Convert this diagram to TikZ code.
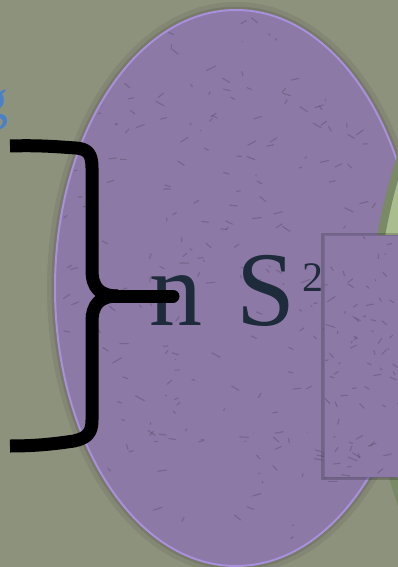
\documentclass[tikz,border=0pt]{standalone}
\usepackage{fontspec}
\setmainfont{Liberation Serif}
\usetikzlibrary{calc}

\definecolor{bgolive}{RGB}{141,146,125}
\definecolor{lilac}{RGB}{140,121,166}
\definecolor{lilacrim}{RGB}{168,144,220}
\definecolor{sagelight}{RGB}{170,189,143}
\definecolor{sagedark}{RGB}{122,138,102}
\definecolor{slateink}{RGB}{29,43,58}
\definecolor{skyblue}{RGB}{74,128,200}

\tikzset{
  blob/.style={fill=lilac,draw=lilacrim,line width=2pt},
  scratch/.style={draw=lilac!55!black,opacity=.35,line width=1.1pt,line cap=round},
  bracket/.style={draw=black,line width=13pt,line join=round}
}

\begin{document}
\begin{tikzpicture}[x=1pt,y=-1pt]
        \useasboundingbox (0,0) rectangle (398,567);
        \fill[bgolive] (0,0) rectangle (398,567);
        % \draw (0,0) rectangle (398,567);

        % soft halo round the ellipse
        \draw[black,opacity=.07,line width=12pt] (236,288) ellipse [x radius=183pt,y radius=280pt];
        \draw[black,opacity=.09,line width=5pt] (236,288) ellipse [x radius=182pt,y radius=279pt];
        \path[blob] (236,288) ellipse [x radius=181pt,y radius=278pt];
        \begin{scope}
            \clip (236,288) ellipse [x radius=179pt,y radius=276pt];
            \pgfmathsetseed{11}
            \foreach \i in {1,...,320} {
                \pgfmathsetmacro\px{55+rnd*362}
                \pgfmathsetmacro\py{10+rnd*556}
                \pgfmathsetmacro\dx{-9+rnd*18}
                \pgfmathsetmacro\dy{-5+rnd*10}
                \draw[scratch] (\px,\py) -- ++(\dx,\dy);
            }
        \end{scope}

        % green disc on the right
        \draw[sagedark,fill=sagelight,line width=8pt] (918,330) circle [radius=545pt];

        % purple card
        \fill[black,opacity=.18] (321,233) rectangle (400,480);
        \fill[lilac] (324,235) rectangle (400,477);
        \begin{scope}
            \clip (324,235) rectangle (400,477);
            \pgfmathsetseed{5}
            \foreach \i in {1,...,70} {
                \pgfmathsetmacro\px{324+rnd*76}
                \pgfmathsetmacro\py{235+rnd*242}
                \pgfmathsetmacro\dx{-9+rnd*18}
                \pgfmathsetmacro\dy{-5+rnd*10}
                \draw[scratch] (\px,\py) -- ++(\dx,\dy);
            }
        \end{scope}
        \draw[lilac!75!black,opacity=.5,line width=.6pt] (324,235) rectangle (400,477);

        % labels
        \node[anchor=base east,inner sep=0pt,text=skyblue,font=\fontsize{56}{56}\selectfont] (cutg) at (9,119) {g};
        \node[anchor=base west,inner sep=0pt,text=slateink,font=\fontsize{106}{106}\selectfont] (nsphere) at (149,325)
            {n \hspace{8pt}S\hspace{7pt}\raisebox{34pt}{\fontsize{42}{42}\selectfont 2}};

        % brace
        \coordinate (upend) at (10,146);
        \coordinate (lowend) at (10,446);
        \coordinate (tip) at (173,296);
        \draw[bracket,line cap=butt] (upend) .. controls (40,145) and (60,147) .. (76,148)
            .. controls (88,149) and (92,154) .. (92,168) -- (92,270)
            .. controls (92,288) and (100,296) .. (118,296);
        \draw[bracket,line cap=butt] (lowend) .. controls (40,446) and (60,443) .. (74,441)
            .. controls (88,438) and (92,432) .. (92,420) -- (92,322)
            .. controls (92,304) and (100,296) .. (118,296);
        \draw[bracket,line cap=round] (116,296) -- (tip);
\end{tikzpicture}
\end{document}
